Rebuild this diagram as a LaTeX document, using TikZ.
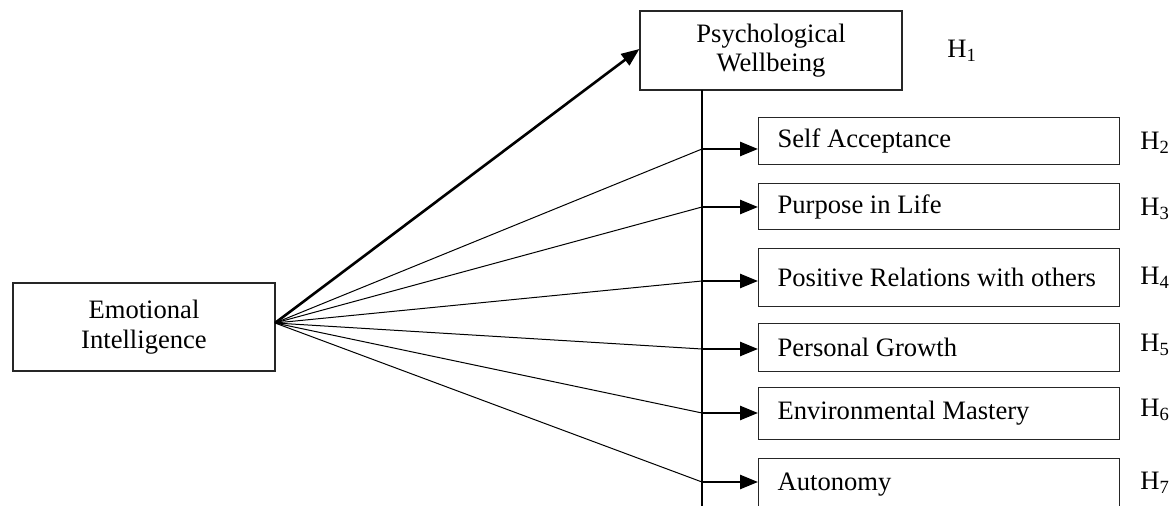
\documentclass[tikz,border=0pt]{standalone}
\usepackage{fontspec}
\setmainfont{Liberation Serif}
\usetikzlibrary{arrows.meta}
\tikzset{
  box/.style={draw=black!85, line width=0.6pt, inner sep=0pt, align=center},
  dimbox/.style={draw=black!85, line width=0.6pt, inner ysep=0pt, inner xsep=9.5pt,
    text width=161.5pt, minimum width=180.5pt, align=left, anchor=north west,
    execute at begin node={\spaceskip=0pt\xspaceskip=0pt\hyphenpenalty=10000\relax}},
  thick arrow/.style={line width=1.3pt, -{Triangle[length=9pt,width=7pt]}},
  thin line/.style={line width=0.5pt},
  hlabel/.style={anchor=west, inner sep=0pt},
}
\begin{document}
\begin{tikzpicture}[x=0.5pt,y=-0.5pt,font=\fontsize{13.3}{14.8}\selectfont]
\useasboundingbox (0,0) rectangle (1176,506);
\clip (0,0) rectangle (1176,506);
% main boxes
\node[box, minimum width=131pt, minimum height=39.5pt] (pw) at (771,50.5) {Psychological\\Wellbeing};
\node[box, minimum width=131pt, minimum height=44pt] (ei) at (144,327) {Emotional\\Intelligence};
% dimension boxes
\node[dimbox, minimum height=23.5pt] (d1) at (758,117) {Self Acceptance};
\node[dimbox, minimum height=23pt] (d2) at (758,183) {Purpose in Life};
\node[dimbox, minimum height=29pt] (d3) at (758,248) {Positive Relations with others};
\node[dimbox, minimum height=24pt] (d4) at (758,323) {Personal Growth};
\node[dimbox, minimum height=26pt] (d5) at (758,387) {Environmental Mastery};
\node[dimbox, minimum height=26pt] (d6) at (758,458) {Autonomy};
% hypothesis labels
\node[hlabel] (h1) at (947,51) {H\textsubscript{1}};
\node[hlabel] (h2) at (1140,143) {H\textsubscript{2}};
\node[hlabel] (h3) at (1140,209) {H\textsubscript{3}};
\node[hlabel] (h4) at (1140,278) {H\textsubscript{4}};
\node[hlabel] (h5) at (1140,345) {H\textsubscript{5}};
\node[hlabel] (h6) at (1140,410) {H\textsubscript{6}};
\node[hlabel] (h7) at (1140,483) {H\textsubscript{7}};
% coordinates
\coordinate (apex) at (275,323);
\coordinate (vtop) at (702,90);
\coordinate (vbot) at (702,512);
\coordinate (j1) at (702,149);
\coordinate (j2) at (702,207);
\coordinate (j3) at (702,281);
\coordinate (j4) at (702,349);
\coordinate (j5) at (702,413);
\coordinate (j6) at (702,482);
% vertical trunk
\draw[line width=1pt] (vtop) -- (vbot);
% main arrow
\draw[thick arrow] (apex) -- (pw.west |- 0,49);
% thin lines and short arrows
\foreach \i in {1,...,6}{
  \draw[thin line] (apex) -- (j\i);
  \draw[thick arrow] (j\i) -- (j\i -| d\i.west);
}
\end{tikzpicture}
\end{document}
